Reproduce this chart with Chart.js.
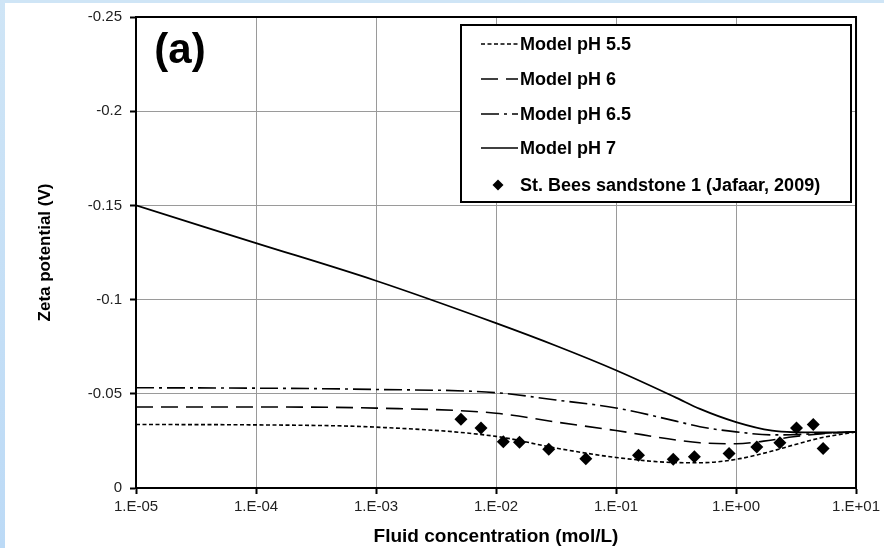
<!DOCTYPE html>
<html>
<head>
<meta charset="utf-8">
<script src="https://cdn.jsdelivr.net/npm/chart.js@4.4.1/dist/chart.umd.min.js"></script>
<style>
  html, body { margin: 0; padding: 0; background: #fff; }
  #wrap { position: relative; width: 884px; height: 548px; overflow: hidden; background: #fff; }
  #wrap .edgeTop { position: absolute; left: 0; top: 0; width: 884px; height: 3px; background: #cfe5f6; }
  #wrap .edgeLeft { position: absolute; left: 0; top: 0; width: 5px; height: 548px;
    background: linear-gradient(#cfe5f6, #bcdaf6); }
  canvas { position: absolute; left: 0; top: 0; }
</style>
</head>
<body>
<div id="wrap">
  <div class="edgeTop"></div>
  <div class="edgeLeft"></div>
  <canvas id="zeta" width="884" height="548"></canvas>
</div>
<script>
// Zeta potential vs fluid concentration, model curves and sandstone measurements

const decades = [1e-5, 1e-4, 1e-3, 1e-2, 1e-1, 1e0, 1e1];
const yTicks = [-0.25, -0.2, -0.15, -0.1, -0.05, 0];

// model curves share one concentration grid (mol/L)
const concModel = [1e-5, 1e-4, 1e-3, 1e-2, 3.16e-2, 1e-1, 3.16e-1, 0.5, 1, 2, 3, 5, 10];
const zetaPH55 = [-0.0337, -0.0335, -0.0323, -0.0274, -0.0212, -0.0162, -0.0135, -0.0134, -0.0152, -0.0196, -0.0228, -0.0265, -0.0298];
const zetaPH6  = [-0.0430, -0.0430, -0.0424, -0.0397, -0.0350, -0.0305, -0.0255, -0.0240, -0.0235, -0.0255, -0.0272, -0.0287, -0.0298];
const zetaPH65 = [-0.0532, -0.0530, -0.0523, -0.0506, -0.0467, -0.0425, -0.0355, -0.0325, -0.0298, -0.0282, -0.0283, -0.0290, -0.0298];
const zetaPH7  = [-0.150, -0.130, -0.110, -0.0875, -0.0755, -0.0625, -0.048, -0.042, -0.035, -0.0304, -0.0296, -0.0295, -0.0298];

// St. Bees sandstone 1 measurements
const concData = [5.1e-3, 7.5e-3, 1.15e-2, 1.57e-2, 2.75e-2, 5.6e-2, 0.154, 0.30, 0.45, 0.875, 1.49, 2.32, 3.19, 4.40, 5.32];
const zetaData = [-0.0365, -0.0319, -0.0245, -0.0243, -0.0206, -0.0155, -0.0174, -0.0152, -0.0166, -0.0183, -0.0218, -0.0240, -0.0319, -0.0337, -0.0210];

const seriesLabels = ["Model pH 5.5", "Model pH 6", "Model pH 6.5", "Model pH 7", "St. Bees sandstone 1 (Jafaar, 2009)"];

const FONT = "'Liberation Sans', Arial, sans-serif";
const DASHES = [[4, 2.5], [17, 8], [18, 5, 3, 5], []];

function pairs(xs, ys) {
  return xs.map((x, i) => ({ x, y: ys[i] }));
}

function modelLine(label, values, dash, width) {
  return {
    label,
    data: pairs(concModel, values),
    borderColor: "#000",
    borderWidth: width,
    borderDash: dash,
    pointRadius: 0,
    cubicInterpolationMode: "monotone",
    fill: false,
  };
}

function formatDecade(v) {
  const e = Math.round(Math.log10(v));
  const sign = e < 0 ? "-" : "+";
  return "1.E" + sign + String(Math.abs(e)).padStart(2, "0");
}

// outer frame, panel tag and boxed legend inside the plot
const panelDecor = {
  id: "panelDecor",
  afterDraw(chart) {
    const { ctx, chartArea: a } = chart;
    ctx.save();
    ctx.strokeStyle = "#000";
    ctx.lineWidth = 2;
    ctx.beginPath();
    ctx.moveTo(a.left, a.top);
    ctx.lineTo(a.right, a.top);
    ctx.lineTo(a.right, a.bottom);
    ctx.stroke();

    ctx.fillStyle = "#000";
    ctx.font = "bold 42px " + FONT;
    ctx.textAlign = "center";
    ctx.textBaseline = "middle";
    ctx.fillText("(a)", 180, 51);

    // legend box
    const box = { x: 461, y: 25, w: 390, h: 177 };
    ctx.fillStyle = "#fff";
    ctx.fillRect(box.x, box.y, box.w, box.h);
    ctx.strokeRect(box.x, box.y, box.w, box.h);

    const rows = [44, 79, 114, 148, 185];
    ctx.font = "bold 18px " + FONT;
    ctx.textAlign = "left";
    ctx.textBaseline = "middle";
    rows.forEach((y, i) => {
      if (i < 4) {
        ctx.setLineDash(DASHES[i]);
        ctx.lineWidth = 1.6;
        ctx.beginPath();
        ctx.moveTo(481, y);
        ctx.lineTo(518, y);
        ctx.stroke();
        ctx.setLineDash([]);
      } else {
        ctx.fillStyle = "#000";
        ctx.beginPath();
        ctx.moveTo(498, y - 5.5);
        ctx.lineTo(503.5, y);
        ctx.lineTo(498, y + 5.5);
        ctx.lineTo(492.5, y);
        ctx.closePath();
        ctx.fill();
      }
      ctx.fillStyle = "#000";
      ctx.fillText(seriesLabels[i], 520, y + 1);
    });
    ctx.restore();
  },
};

new Chart(document.getElementById("zeta"), {
  type: "line",
  data: {
    datasets: [
      modelLine(seriesLabels[0], zetaPH55, DASHES[0], 1.6),
      modelLine(seriesLabels[1], zetaPH6, DASHES[1], 1.6),
      modelLine(seriesLabels[2], zetaPH65, DASHES[2], 1.6),
      modelLine(seriesLabels[3], zetaPH7, DASHES[3], 1.8),
      {
        label: seriesLabels[4],
        data: pairs(concData, zetaData),
        showLine: false,
        pointStyle: "rectRot",
        pointRadius: 6.5,
        pointBackgroundColor: "#000",
        pointBorderColor: "#000",
        pointBorderWidth: 0,
      },
    ],
  },
  options: {
    responsive: false,
    animation: false,
    layout: { padding: { top: 15, right: 26, bottom: 0, left: 0 } },
    plugins: {
      legend: { display: false },
      tooltip: { enabled: false },
    },
    scales: {
      x: {
        type: "logarithmic",
        min: 1e-5,
        max: 10,
        afterBuildTicks: (axis) => {
          axis.ticks = decades.map((value) => ({ value }));
        },
        afterFit: (axis) => { axis.height = 60; },
        grid: { color: "#9a9a9a", lineWidth: 1, tickLength: 6, tickColor: "#000", tickWidth: 2 },
        border: { color: "#000", width: 2 },
        ticks: {
          color: "#222",
          font: { family: FONT, size: 15 },
          padding: 4,
          maxRotation: 0,
          autoSkip: false,
          callback: (v) => formatDecade(v),
        },
        title: {
          display: true,
          text: "Fluid concentration (mol/L)",
          color: "#000",
          font: { family: FONT, size: 19, weight: "bold" },
          padding: { top: 0, bottom: 0 },
        },
      },
      y: {
        type: "linear",
        reverse: true,
        min: -0.25,
        max: 0,
        afterBuildTicks: (axis) => {
          axis.ticks = yTicks.map((value) => ({ value }));
        },
        afterFit: (axis) => { axis.width = 136; },
        grid: { color: "#9a9a9a", lineWidth: 1, tickLength: 6, tickColor: "#000", tickWidth: 2 },
        border: { color: "#000", width: 2 },
        ticks: {
          color: "#222",
          font: { family: FONT, size: 15 },
          padding: 8,
          callback: (v) => String(Number(v.toFixed(2))),
        },
        title: {
          display: true,
          text: "Zeta potential (V)",
          color: "#000",
          font: { family: FONT, size: 17, weight: "bold" },
          padding: { top: 35, bottom: 0 },
        },
      },
    },
  },
  plugins: [panelDecor],
});
</script>
</body>
</html>
